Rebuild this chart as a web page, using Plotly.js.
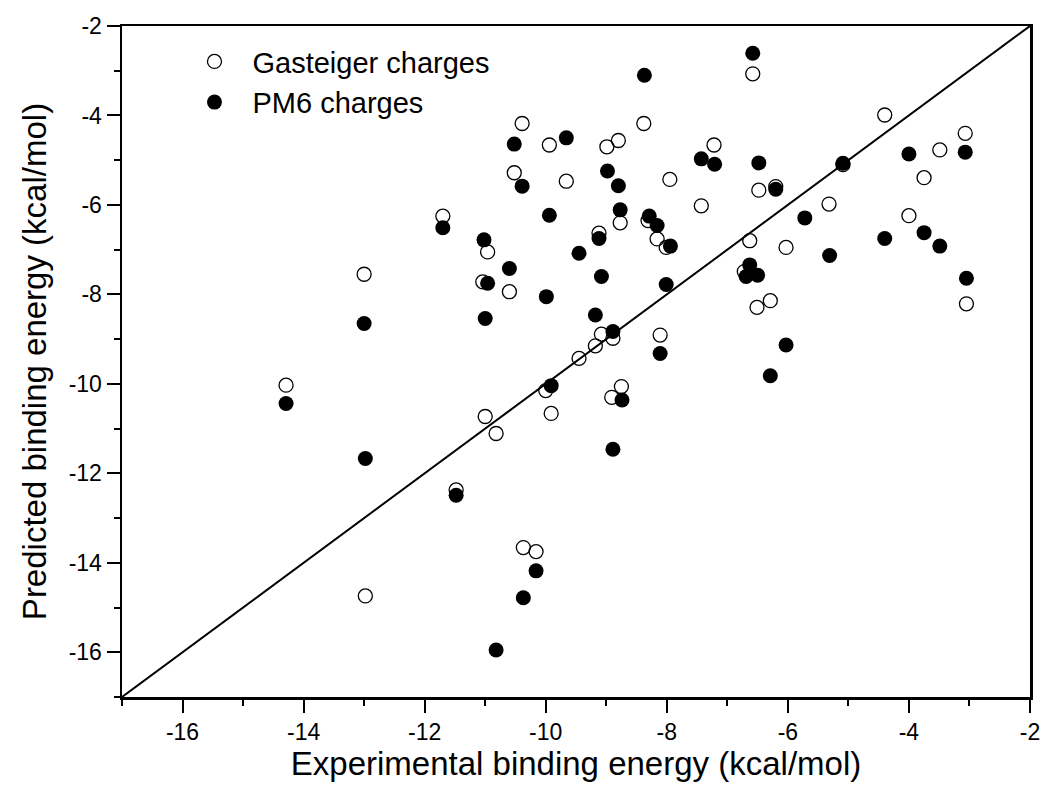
<!DOCTYPE html>
<html>
<head>
<meta charset="utf-8">
<script src="https://cdn.plot.ly/plotly-3.0.1.min.js"></script>
<style>html,body{margin:0;padding:0;background:#fff;}#chart{width:1041px;height:789px;}</style>
</head>
<body>
<div id="chart"></div>
<script>
// Gasteiger charges (open circles)
const gastExp  = [-11.70,-6.58,-10.39,-8.38,-9.94,-8.99,-8.80,-7.22,-10.52,-9.66,-7.95,-7.43,-8.77,-8.31,-8.16,-8.01,-10.96,-9.12,-6.63,-4.40,-3.07,-3.49,-3.75,-5.09,-6.48,-6.20,-5.32,-4.00,-6.03,-6.72,-6.51,-6.29,-3.05,-13.00,-14.29,-11.04,-10.60,-9.08,-8.89,-9.18,-9.45,-8.11,-10.00,-8.75,-8.91,-9.91,-11.00,-10.82,-11.48,-10.37,-10.16,-12.98];
const gastPred = [-6.25,-3.07,-4.18,-4.18,-4.66,-4.70,-4.56,-4.66,-5.28,-5.47,-5.43,-6.02,-6.40,-6.35,-6.76,-6.95,-7.05,-6.63,-6.80,-3.99,-4.40,-4.77,-5.39,-5.10,-5.67,-5.59,-5.98,-6.24,-6.95,-7.49,-8.29,-8.14,-8.21,-7.55,-10.03,-7.72,-7.94,-8.89,-8.98,-9.15,-9.43,-8.91,-10.15,-10.06,-10.30,-10.66,-10.73,-11.11,-12.37,-13.66,-13.75,-14.74];
// PM6 charges (filled circles)
const pm6Exp  = [-11.70,-6.58,-8.37,-10.52,-9.66,-7.43,-7.21,-10.39,-8.98,-8.80,-9.94,-8.77,-8.29,-8.16,-7.94,-11.02,-9.45,-9.12,-6.48,-3.07,-4.00,-5.09,-6.20,-5.72,-3.75,-3.49,-4.40,-5.31,-6.63,-6.69,-6.50,-6.03,-6.29,-3.05,-13.00,-14.29,-12.98,-10.60,-10.96,-9.99,-9.08,-8.01,-11.00,-9.18,-8.89,-8.11,-9.91,-8.74,-8.89,-11.48,-10.16,-10.37,-10.82];
const pm6Pred = [-6.51,-2.61,-3.10,-4.64,-4.50,-4.97,-5.09,-5.58,-5.24,-5.57,-6.23,-6.11,-6.25,-6.46,-6.92,-6.78,-7.08,-6.75,-5.06,-4.82,-4.86,-5.07,-5.65,-6.29,-6.62,-6.92,-6.75,-7.13,-7.34,-7.60,-7.57,-9.13,-9.82,-7.64,-8.65,-10.44,-11.67,-7.42,-7.75,-8.05,-7.60,-7.78,-8.54,-8.46,-8.83,-9.32,-10.04,-10.36,-11.46,-12.49,-14.18,-14.78,-15.95];
// y = x reference line endpoints (axis range)
const diagonal = [-17, -2];
const tickVals = [-16,-14,-12,-10,-8,-6,-4,-2];
const tickText = ['-16','-14','-12','-10','-8','-6','-4','-2'];

const FONT = 'Arial, "Liberation Sans", sans-serif';

const traces = [
  {x: diagonal, y: diagonal, mode: 'lines', line: {color: '#000', width: 2}, showlegend: false, hoverinfo: 'skip'},
  {x: gastExp, y: gastPred, mode: 'markers', name: 'Gasteiger charges', type: 'scatter',
   marker: {symbol: 'circle-open', size: 14, color: '#000', line: {color: '#000', width: 1.3}}},
  {x: pm6Exp, y: pm6Pred, mode: 'markers', name: 'PM6 charges', type: 'scatter',
   marker: {symbol: 'circle', size: 15, color: '#000'}}
];

const axisCommon = {
  showgrid: false, zeroline: false, showline: true, linecolor: '#000', linewidth: 2.5,
  mirror: true, ticks: 'outside', ticklen: 13, tickwidth: 2, tickcolor: '#000',
  tickfont: {family: FONT, size: 23, color: '#000'}, ticklabeloverflow: 'allow',
  tickvals: tickVals, ticktext: tickText, range: [-17, -2],
  minor: {ticks: 'outside', ticklen: 6, tickwidth: 2, tickcolor: '#000', dtick: 1}
};

const layout = {
  width: 1041, height: 789,
  margin: {l: 122, r: 11, t: 26, b: 92},
  paper_bgcolor: '#fff', plot_bgcolor: '#fff',
  font: {family: FONT, color: '#000'},
  xaxis: Object.assign({}, axisCommon, {
    title: {text: 'Experimental binding energy (kcal/mol)', font: {family: FONT, size: 33, color: '#000'}, standoff: 8}
  }),
  yaxis: Object.assign({}, axisCommon, {
    title: {text: 'Predicted binding energy (kcal/mol)', font: {family: FONT, size: 33, color: '#000'}, standoff: 12}
  }),
  legend: {x: 0.06, y: 0.985, xanchor: 'left', yanchor: 'top', bgcolor: 'rgba(0,0,0,0)', itemwidth: 66,
           font: {family: FONT, size: 29, color: '#000'}, tracegroupgap: 0},
  showlegend: true
};

Plotly.newPlot('chart', traces, layout, {displayModeBar: false, staticPlot: true});
</script>
</body>
</html>
